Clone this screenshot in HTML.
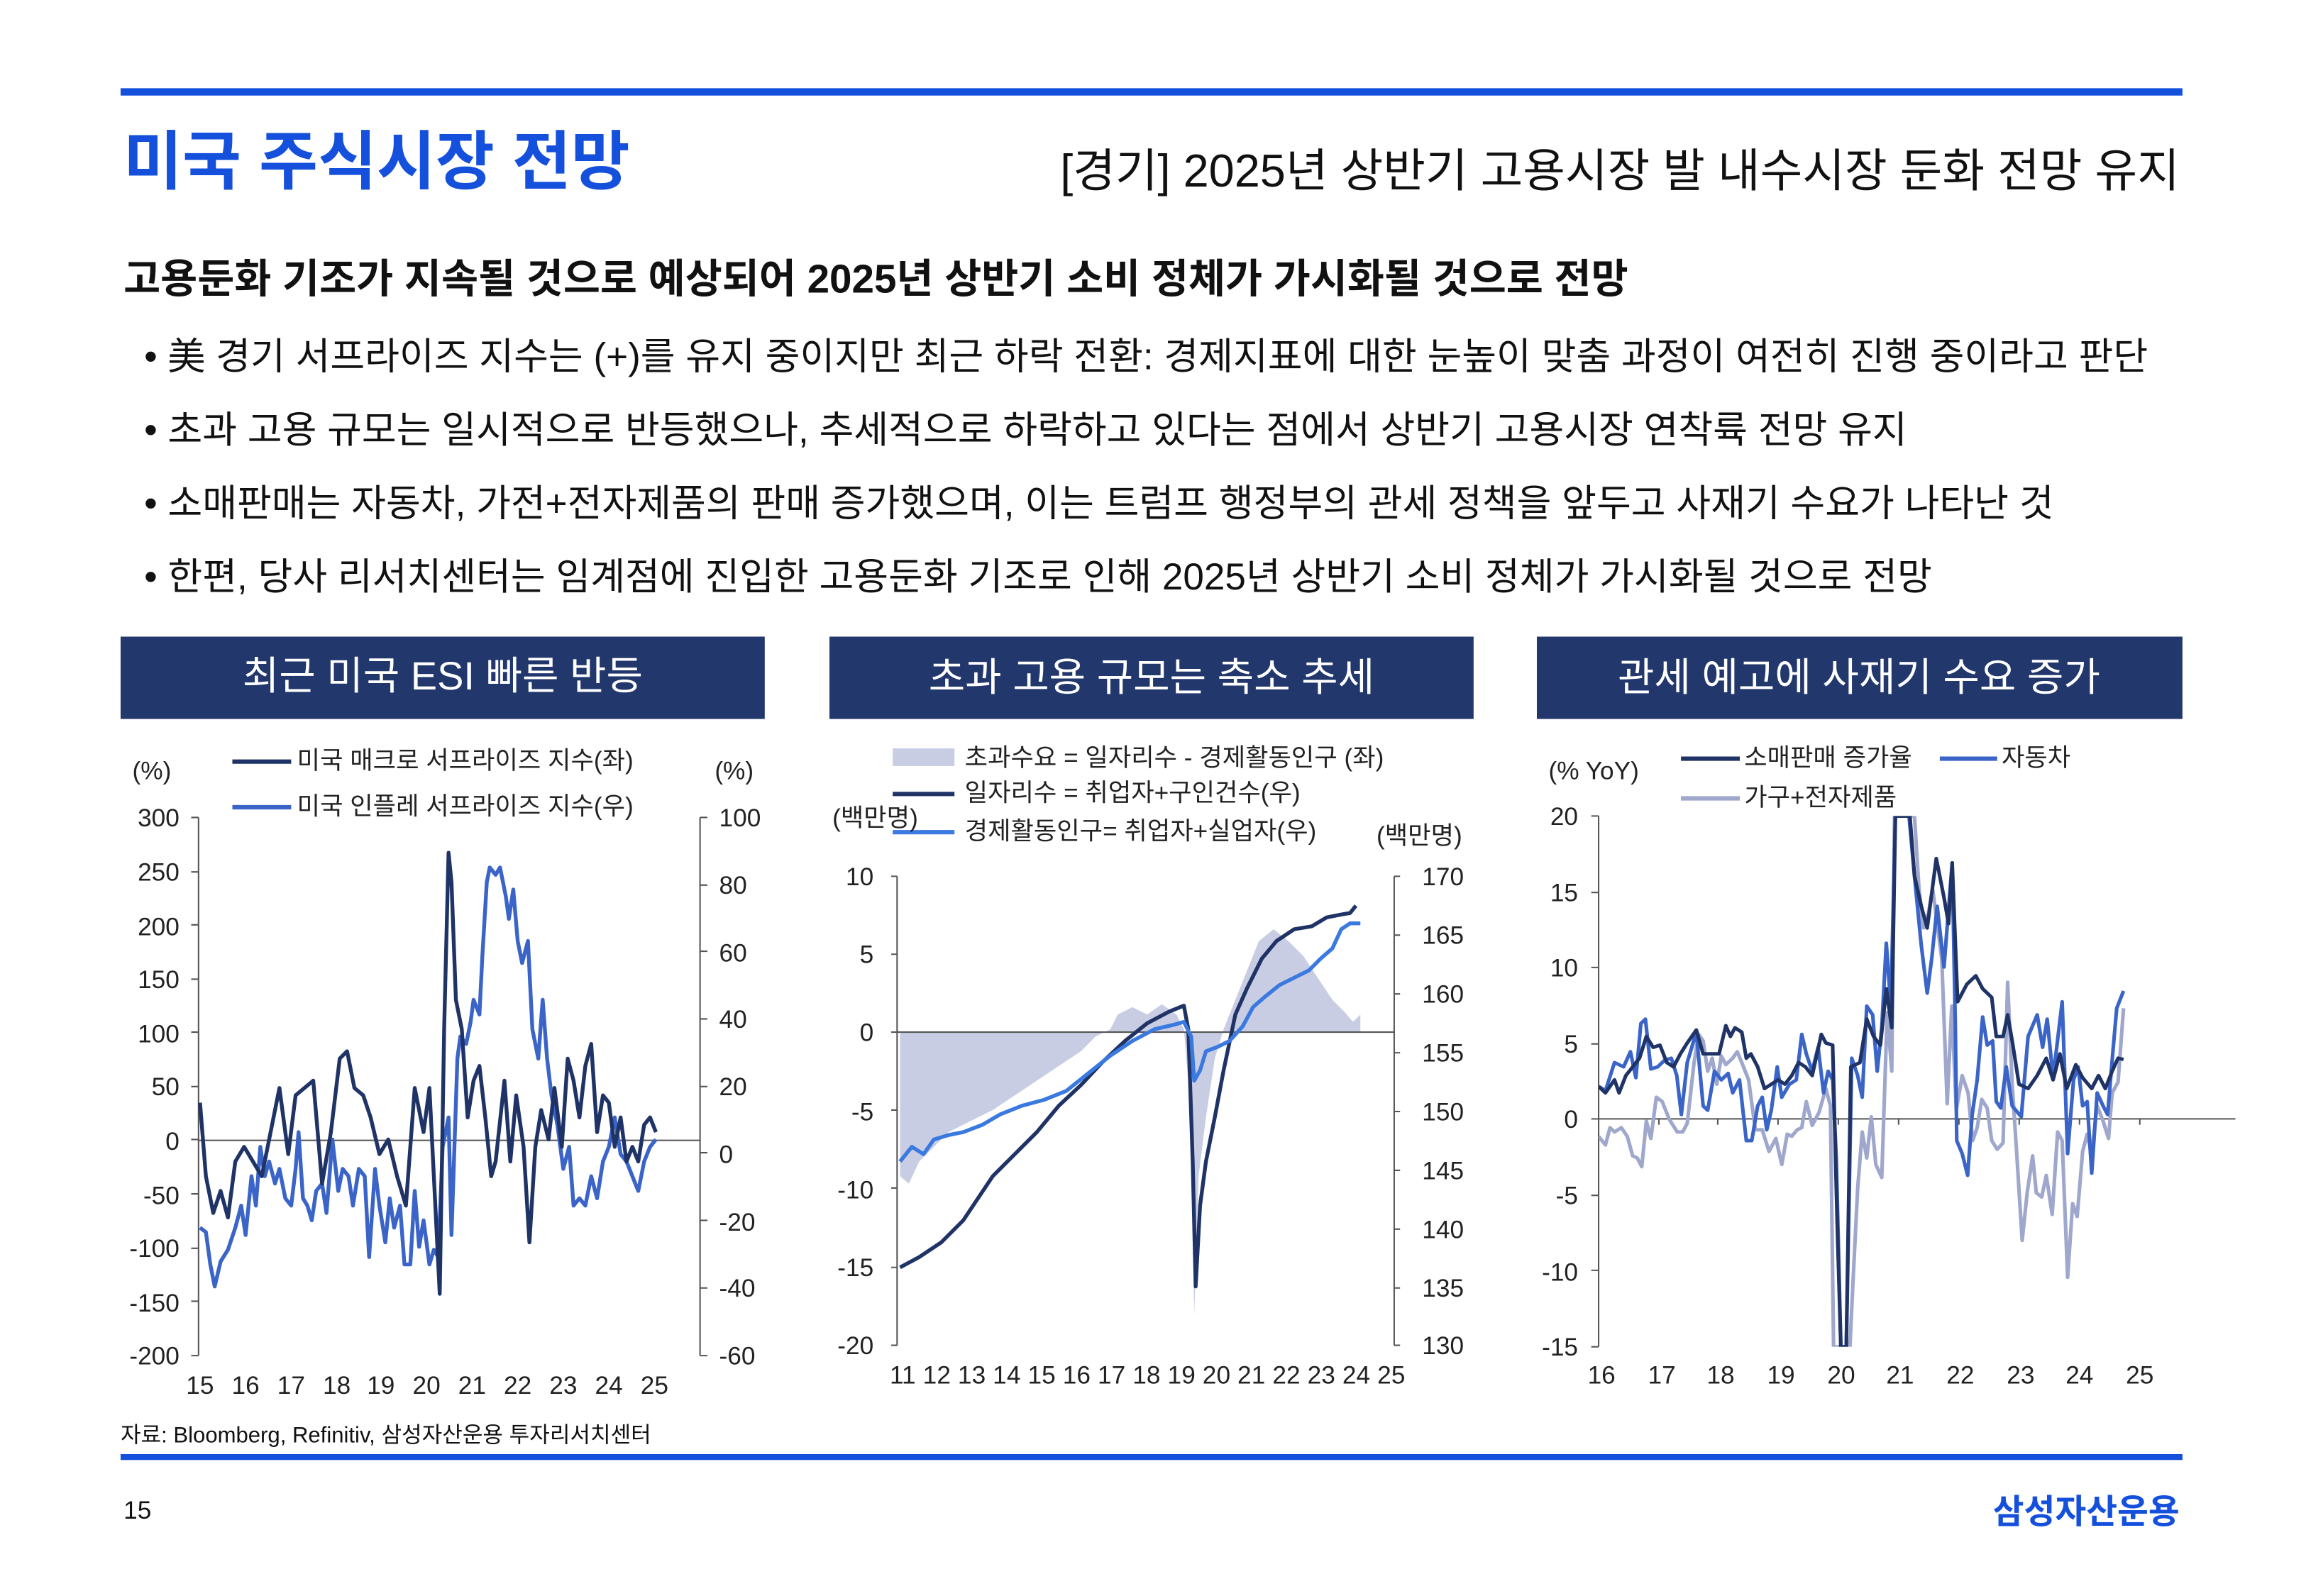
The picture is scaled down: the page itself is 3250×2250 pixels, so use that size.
<!DOCTYPE html>
<html><head><meta charset="utf-8"><style>
html,body{margin:0;padding:0;background:#fff;}
svg{display:block;}
text{font-family:"Liberation Sans","Noto Sans CJK KR",sans-serif;}
</style></head><body>
<svg width="3250" height="2250" viewBox="0 0 1568 1085.5" preserveAspectRatio="none" xmlns="http://www.w3.org/2000/svg">
<rect x="82" y="60" width="1402" height="5" fill="#1450dc"/>
<text x="84" y="125" font-size="43.5" font-weight="bold" fill="#1450dc">미국 주식시장 전망</text>
<text x="1482" y="127" font-size="31.3" text-anchor="end" fill="#111">[경기] 2025년 상반기 고용시장 발 내수시장 둔화 전망 유지</text>
<text x="84" y="199" font-size="27.3" font-weight="bold" fill="#111">고용둔화 기조가 지속될 것으로 예상되어 2025년 상반기 소비 정체가 가시화될 것으로 전망</text>
<g font-size="25.6" fill="#111">
<text x="98" y="251">• 美 경기 서프라이즈 지수는 (+)를 유지 중이지만 최근 하락 전환: 경제지표에 대한 눈높이 맞춤 과정이 여전히 진행 중이라고 판단</text>
<text x="98" y="301">• 초과 고용 규모는 일시적으로 반등했으나, 추세적으로 하락하고 있다는 점에서 상반기 고용시장 연착륙 전망 유지</text>
<text x="98" y="351">• 소매판매는 자동차, 가전+전자제품의 판매 증가했으며, 이는 트럼프 행정부의 관세 정책을 앞두고 사재기 수요가 나타난 것</text>
<text x="98" y="401">• 한편, 당사 리서치센터는 임계점에 진입한 고용둔화 기조로 인해 2025년 상반기 소비 정체가 가시화될 것으로 전망</text>
</g>
<rect x="82" y="433" width="438" height="56" fill="#22376b"/>
<rect x="564" y="433" width="438" height="56" fill="#22376b"/>
<rect x="1045" y="433" width="439" height="56" fill="#22376b"/>
<g font-size="27" fill="#fff" text-anchor="middle">
<text x="301" y="469">최근 미국 ESI 빠른 반등</text>
<text x="783" y="470">초과 고용 규모는 축소 추세</text>
<text x="1264" y="470">관세 예고에 사재기 수요 증가</text>
</g>

<!-- Chart 1 -->
<g font-size="17" fill="#222">
<text x="90" y="530">(%)</text><text x="486" y="530">(%)</text>
<line x1="158" y1="518" x2="198" y2="518" stroke="#1f3366" stroke-width="3"/>
<text x="202" y="523">미국 매크로 서프라이즈 지수(좌)</text>
<line x1="158" y1="549" x2="198" y2="549" stroke="#3a64c8" stroke-width="3"/>
<text x="202" y="554">미국 인플레 서프라이즈 지수(우)</text>
<g text-anchor="end">
<text x="122" y="562">300</text><text x="122" y="599">250</text><text x="122" y="636">200</text><text x="122" y="672">150</text><text x="122" y="709">100</text><text x="122" y="745">50</text><text x="122" y="782">0</text><text x="122" y="819">-50</text><text x="122" y="855">-100</text><text x="122" y="892">-150</text><text x="122" y="928">-200</text>
</g>
<text x="489" y="562">100</text><text x="489" y="608">80</text><text x="489" y="654">60</text><text x="489" y="699">40</text><text x="489" y="745">20</text><text x="489" y="791">0</text><text x="489" y="837">-20</text><text x="489" y="882">-40</text><text x="489" y="928">-60</text>
<g text-anchor="middle">
<text x="136" y="948">15</text><text x="167" y="948">16</text><text x="198" y="948">17</text><text x="229" y="948">18</text><text x="259" y="948">19</text><text x="290" y="948">20</text><text x="321" y="948">21</text><text x="352" y="948">22</text><text x="383" y="948">23</text><text x="414" y="948">24</text><text x="445" y="948">25</text>
</g>
</g>
<g stroke="#555" stroke-width="1" fill="none">
<path d="M135 556V922M130 556H135M130 593H135M130 629H135M130 666H135M130 702H135M130 739H135M130 775H135M130 812H135M130 849H135M130 885H135M130 922H135"/>
<path d="M476 556V922M476 556H481M476 602H481M476 647H481M476 693H481M476 739H481M476 784H481M476 830H481M476 876H481M476 922H481"/>
<path d="M135 775.6H476"/>
</g>
<polyline fill="none" stroke="#3a64c8" stroke-width="2.6" stroke-linejoin="round" points="136,835 140,838 143,860 146,875 150,858 155,850 160,835 164,820 167,840 171,800 174,820 177,780 180,800 183,790 187,805 190,795 194,815 198,820 201,795 203,770 206,815 209,820 212,830 215,810 219,805 222,825 226,775 230,810 233,795 237,800 240,820 244,795 248,800 251,855 255,795 258,820 262,845 265,815 268,835 272,820 275,860 279,860 282,810 285,848 288,830 292,860 295,850 298,855 301,780 305,760 307,840 311,720 313,705 317,710 320,695 322,680 326,690 328,650 331,600 333,590 337,595 340,590 344,610 346,625 349,605 352,640 355,655 359,640 362,700 366,720 369,680 372,720 375,745 379,765 383,795 387,780 390,820 394,815 398,820 402,800 406,815 410,790 414,780 418,760 422,785 426,790 430,800 434,810 438,790 442,780 446,775"/>
<polyline fill="none" stroke="#1f3366" stroke-width="2.6" stroke-linejoin="round" points="136,750 140,800 145,825 150,810 155,828 160,790 166,780 172,790 178,800 184,770 190,740 196,785 201,745 207,740 213,735 219,805 225,770 231,720 236,715 241,740 247,745 252,760 258,785 264,775 270,800 276,820 282,740 288,770 292,740 296,820 299,880 302,700 305,580 307,600 310,680 314,700 318,760 322,735 326,725 330,760 334,800 337,790 343,735 347,790 351,745 356,780 360,845 364,780 368,755 373,775 377,740 382,780 386,720 390,735 394,760 398,725 402,710 406,770 410,745 414,750 418,780 422,760 426,790 430,780 434,790 438,765 442,760 446,770"/>

<!-- Chart 2 -->
<g font-size="17" fill="#222">
<rect x="607" y="509" width="42" height="12" fill="#c9cde3"/>
<text x="656" y="521">초과수요 = 일자리수 - 경제활동인구 (좌)</text>
<line x1="607" y1="540" x2="649" y2="540" stroke="#1f3366" stroke-width="3"/>
<text x="656" y="545">일자리수 = 취업자+구인건수(우)</text>
<line x1="607" y1="566" x2="649" y2="566" stroke="#3a7ae0" stroke-width="3"/>
<text x="656" y="571">경제활동인구= 취업자+실업자(우)</text>
<text x="566" y="562">(백만명)</text><text x="936" y="574">(백만명)</text>
<g text-anchor="end">
<text x="594" y="602">10</text><text x="594" y="655">5</text><text x="594" y="708">0</text><text x="594" y="762">-5</text><text x="594" y="815">-10</text><text x="594" y="868">-15</text><text x="594" y="921">-20</text>
</g>
<text x="967" y="602">170</text><text x="967" y="642">165</text><text x="967" y="682">160</text><text x="967" y="722">155</text><text x="967" y="762">150</text><text x="967" y="802">145</text><text x="967" y="842">140</text><text x="967" y="882">135</text><text x="967" y="921">130</text>
<text x="605" y="941" letter-spacing="0.05">11 12 13 14 15 16 17 18 19 20 21 22 23 24 25</text>
</g>
<polygon fill="#c9cde3" points="612,702 612,800 618,805 625,790 635,780 645,770 655,765 665,760 675,755 690,745 705,735 720,725 735,715 745,705 755,700 760,690 770,685 780,690 790,683 800,690 805,700 810,760 812,895 815,800 820,760 826,720 832,700 840,680 848,660 856,640 866,632 876,640 886,650 896,665 906,680 914,688 920,695 925,690 925,702"/>
<g stroke="#555" stroke-width="1" fill="none">
<path d="M610 596V915M606 596H610M606 649H610M606 702H610M606 755H610M606 808H610M606 862H610M606 915H610"/>
<path d="M948 596V915M948 596H952M948 636H952M948 676H952M948 716H952M948 756H952M948 796H952M948 836H952M948 876H952M948 915H952"/>
<path d="M610 702H948"/>
</g>
<polyline fill="none" stroke="#1f3366" stroke-width="2.6" stroke-linejoin="round" points="612,862 625,855 640,845 655,830 665,815 675,800 690,785 705,770 720,752 735,738 750,722 765,708 780,696 795,688 805,684 808,700 811,790 813,875 816,820 820,790 826,760 832,728 840,690 848,672 858,652 868,640 880,632 892,630 902,624 912,622 918,621 922,616"/>
<polyline fill="none" stroke="#3a7ae0" stroke-width="2.6" stroke-linejoin="round" points="612,790 620,780 628,785 635,775 645,772 655,770 668,765 680,758 695,752 710,748 725,742 740,730 755,718 770,708 785,700 798,697 805,695 810,705 812,735 816,728 820,715 828,712 836,708 845,698 852,685 860,678 870,670 880,665 890,660 898,652 906,645 912,632 918,628 925,628"/>

<!-- Chart 3 -->
<g font-size="17" fill="#222">
<text x="1053" y="530">(% YoY)</text>
<line x1="1143" y1="516" x2="1183" y2="516" stroke="#1f3366" stroke-width="3"/>
<text x="1186" y="521">소매판매 증가율</text>
<line x1="1319" y1="516" x2="1358" y2="516" stroke="#3a64c8" stroke-width="3"/>
<text x="1361" y="521">자동차</text>
<line x1="1143" y1="543" x2="1183" y2="543" stroke="#9fa8cc" stroke-width="3"/>
<text x="1186" y="548">가구+전자제품</text>
<g text-anchor="end">
<text x="1073" y="561">20</text><text x="1073" y="613">15</text><text x="1073" y="664">10</text><text x="1073" y="716">5</text><text x="1073" y="767">0</text><text x="1073" y="819">-5</text><text x="1073" y="871">-10</text><text x="1073" y="922">-15</text>
</g>
<g text-anchor="middle">
<text x="1089" y="941">16</text><text x="1130" y="941">17</text><text x="1170" y="941">18</text><text x="1211" y="941">19</text><text x="1252" y="941">20</text><text x="1292" y="941">21</text><text x="1333" y="941">22</text><text x="1374" y="941">23</text><text x="1414" y="941">24</text><text x="1455" y="941">25</text>
</g>
</g>
<g stroke="#555" stroke-width="1" fill="none">
<path d="M1087 555V916M1082 555H1087M1082 607H1087M1082 658H1087M1082 710H1087M1082 761H1087M1082 813H1087M1082 864H1087M1082 916H1087"/>
<path d="M1087 761H1520M1128 761V765M1168 761V765M1209 761V765M1250 761V765M1291 761V765M1332 761V765M1373 761V765M1414 761V765M1455 761V765"/>
</g>
<svg x="1087" y="555" width="500" height="361" viewBox="115 212 1618 1223" preserveAspectRatio="none" overflow="hidden">
<g fill="none" stroke-linejoin="round" stroke-width="8">
<polyline stroke="#9fa8cc" points="115,950 130,970 140,930 150,940 165,930 178,950 190,995 200,1000 210,1020 220,915 230,955 242,860 255,870 270,910 288,940 300,940 310,920 325,780 335,715 345,730 355,800 365,770 375,830 385,765 395,785 410,770 420,755 430,780 445,820 460,935 475,935 490,985 505,955 518,1015 530,945 540,950 552,935 562,930 572,870 585,925 600,895 615,840 625,880 632,1435 668,1435 675,1280 685,1070 695,940 705,1000 715,905 725,1015 738,1045 750,665 760,800 766,212 810,212 820,380 830,470 840,440 850,380 860,460 870,540 882,875 892,650 902,890 915,810 928,850 938,960 948,930 958,865 970,885 980,960 992,980 1005,965 1015,595 1025,830 1035,990 1047,1190 1058,1080 1070,995 1078,1080 1090,1090 1100,1040 1113,1130 1125,940 1135,960 1147,1275 1158,1105 1168,1135 1180,985 1190,945 1200,990 1212,880 1225,915 1237,955 1245,850 1258,825 1270,655"/>
<polyline stroke="#3a64c8" points="115,835 130,845 150,780 170,790 185,755 197,815 208,690 218,680 230,795 245,790 260,775 275,770 287,810 297,900 310,780 330,710 345,880 355,890 370,800 385,820 400,805 410,850 425,820 440,960 452,960 465,880 475,860 485,935 495,890 508,790 518,860 535,830 550,820 562,715 572,760 585,800 598,745 610,850 620,800 630,820 638,1000 648,1435 660,1435 672,770 685,810 695,860 705,650 718,670 728,800 738,700 748,505 758,650 768,212 798,212 810,350 825,510 838,620 848,540 860,420 875,560 893,320 900,700 903,960 915,990 927,1040 937,900 948,820 960,675 970,740 982,730 990,870 1000,885 1012,790 1025,880 1045,905 1060,720 1080,670 1092,745 1102,680 1115,815 1135,640 1147,990 1160,820 1170,790 1180,880 1190,870 1200,1035 1212,850 1225,880 1235,900 1247,750 1255,655 1270,615"/>
<polyline stroke="#1f3366" points="115,835 130,850 150,820 160,850 175,810 190,790 205,770 220,720 235,745 250,740 265,780 280,790 295,760 310,735 330,705 345,760 360,760 380,760 395,695 405,720 415,700 430,710 440,770 450,760 465,790 480,840 495,830 510,820 525,830 540,810 555,780 570,790 585,810 605,715 615,735 630,740 640,1150 648,1435 660,1435 670,790 690,780 705,680 720,720 735,740 748,610 760,700 768,212 800,212 810,350 825,420 838,470 858,310 875,400 885,460 893,320 905,640 925,600 945,580 960,610 980,630 990,720 1005,720 1015,670 1025,730 1040,830 1060,840 1080,810 1100,770 1115,820 1130,760 1145,840 1165,785 1180,815 1200,840 1215,810 1230,840 1245,800 1258,770 1270,773"/>
</g>
</svg>

<text x="82" y="981" font-size="15" fill="#111">자료: Bloomberg, Refinitiv, 삼성자산운용 투자리서치센터</text>
<rect x="82" y="989" width="1402" height="4" fill="#1450dc"/>
<text x="84" y="1033" font-size="17" fill="#111">15</text>
<text x="1482" y="1036" font-size="23" font-weight="bold" fill="#1450dc" text-anchor="end">삼성자산운용</text>
</svg>
</body></html>
